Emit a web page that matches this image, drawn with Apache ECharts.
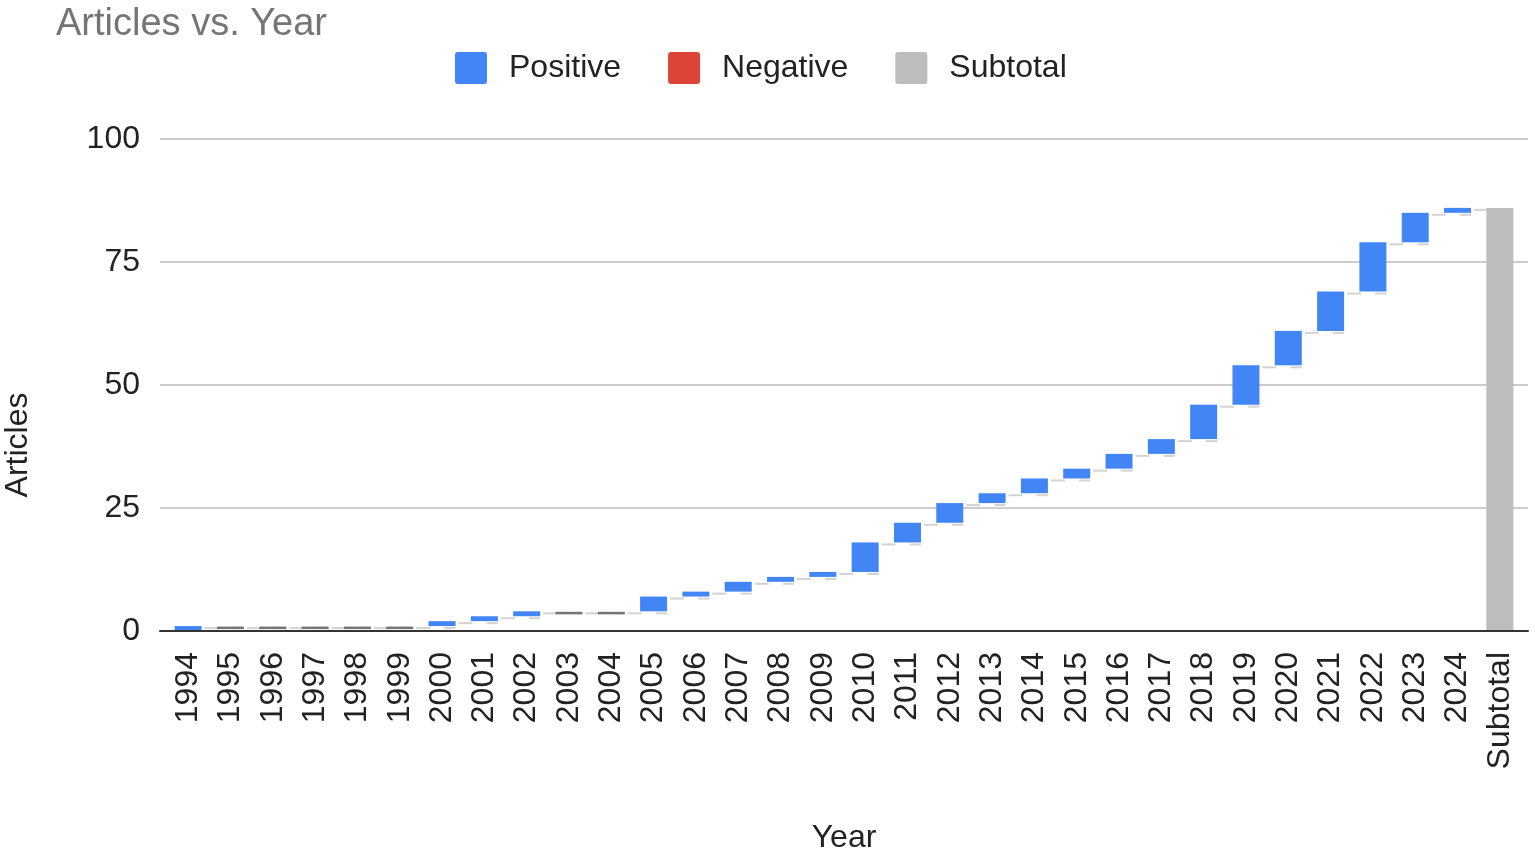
<!DOCTYPE html>
<html>
<head>
<meta charset="utf-8">
<script src="https://cdn.jsdelivr.net/npm/echarts@6/dist/echarts.min.js"></script>
<style>html,body{margin:0;padding:0;background:#fff;}#c{width:1535px;height:855px;}</style>
</head>
<body>
<div id="c"></div>
<script>
// ---- data ----
const categories = ['1994','1995','1996','1997','1998','1999','2000','2001','2002','2003','2004','2005','2006','2007','2008','2009','2010','2011','2012','2013','2014','2015','2016','2017','2018','2019','2020','2021','2022','2023','2024','Subtotal'];
const yearlyChange = [1,0,0,0,0,0,1,1,1,0,0,3,1,2,1,1,6,4,4,2,3,2,3,3,7,8,7,8,10,6,1];
const subtotalValue = 86;
const yTicks = [0,25,50,75,100];

// ---- derived (through library scales) ----
const FONT = "'Liberation Sans', Arial, sans-serif";
const base = [], pos = [], sub = [], marks = [];
let cum = 0;
yearlyChange.forEach((v, i) => {
  base.push(cum);
  pos.push(v > 0 ? v : '-');
  sub.push('-');
  cum += v;
  marks.push([i, cum, v === 0 ? 1 : 0]);
});
base.push(0); pos.push('-'); sub.push(subtotalValue);

const BAR_W = 27;
const ICON = 'path://M3,0 H29 Q32,0 32,3 V29 Q32,32 29,32 H3 Q0,32 0,29 V3 Q0,0 3,0 Z';
const chart = echarts.init(document.getElementById('c'));
chart.setOption({
  animation: false,
  textStyle: { fontFamily: FONT },
  title: {
    text: 'Articles vs. Year', left: 56, top: 6, padding: 0,
    textStyle: { fontSize: 38, fontWeight: 'normal', color: '#757575', fontFamily: FONT }
  },
  legend: {
    data: ['Positive', 'Negative', 'Subtotal'],
    left: 455, top: 52, padding: 0,
    itemWidth: 32, itemHeight: 32, itemGap: 47, icon: ICON,
    textStyle: { fontSize: 32, color: '#222', fontFamily: FONT, padding: [3, 0, 0, 17] }
  },
  graphic: [
    { type: 'text', x: 18, y: 445, rotation: Math.PI / 2,
      style: { text: 'Articles', fontSize: 32, fontFamily: FONT, fill: '#222', textAlign: 'center', textVerticalAlign: 'middle' } },
    { type: 'text', x: 844, y: 838,
      style: { text: 'Year', fontSize: 32, fontFamily: FONT, fill: '#222', textAlign: 'center', textVerticalAlign: 'middle' } }
  ],
  grid: [
    { left: 160, right: 7, top: 139, height: 492 },
    { left: 167, right: 14, top: 139, height: 492 }
  ],
  xAxis: [
    { gridIndex: 0, type: 'value', min: 0, max: 1, z: 5,
      axisLine: { show: true, lineStyle: { color: '#333', width: 2 } },
      axisTick: { show: false }, axisLabel: { show: false }, splitLine: { show: false } },
    { gridIndex: 1, type: 'category', data: categories,
      axisLine: { show: false }, axisTick: { show: false },
      axisLabel: { interval: 0, rotate: 90, margin: 21, fontSize: 32, color: '#222', fontFamily: FONT } }
  ],
  yAxis: [
    { gridIndex: 0, type: 'value', min: yTicks[0], max: yTicks[yTicks.length - 1], interval: 25,
      axisLine: { show: false }, axisTick: { show: false },
      axisLabel: { fontSize: 32, color: '#222', margin: 20, fontFamily: FONT, padding: [3, 0, 0, 0] },
      splitLine: { lineStyle: { color: '#cccccc', width: 2 } } },
    { gridIndex: 1, type: 'value', min: yTicks[0], max: yTicks[yTicks.length - 1], interval: 25, show: false,
      splitLine: { show: false } }
  ],
  series: [
    { name: 'connectors', type: 'custom', xAxisIndex: 1, yAxisIndex: 1, z: 1, silent: true,
      data: marks, encode: { x: 0, y: 1 },
      renderItem: function (params, api) {
        const idx = api.value(0), lvl = api.value(1), zero = api.value(2);
        const p = api.coord([idx, lvl]);
        const band = api.size([1, 0])[0];
        const hw = BAR_W / 2;
        const children = [{
          type: 'line',
          shape: { x1: p[0] + hw + 3, y1: p[1] + 2, x2: p[0] + band + hw, y2: p[1] + 2 },
          style: { stroke: '#d3d3d3', lineWidth: 2, lineDash: [14, 14] }
        }];
        if (zero) {
          children.push({ type: 'rect', shape: { x: p[0] - hw, y: p[1] + 0.5, width: BAR_W, height: 2.5 },
            style: { fill: '#757575' }, z2: 10 });
        }
        return { type: 'group', children: children };
      }
    },
    { name: 'base', type: 'bar', xAxisIndex: 1, yAxisIndex: 1, stack: 'w', barWidth: BAR_W, silent: true,
      itemStyle: { color: 'transparent' }, data: base },
    { name: 'Positive', type: 'bar', xAxisIndex: 1, yAxisIndex: 1, stack: 'w', barWidth: BAR_W,
      itemStyle: { color: '#4285F4' }, data: pos },
    { name: 'Negative', type: 'bar', xAxisIndex: 1, yAxisIndex: 1, stack: 'w', barWidth: BAR_W,
      itemStyle: { color: '#DB4437' }, data: [] },
    { name: 'Subtotal', type: 'bar', xAxisIndex: 1, yAxisIndex: 1, stack: 'w', barWidth: BAR_W,
      itemStyle: { color: '#BDBDBD' }, data: sub }
  ]
});
</script>
</body>
</html>
